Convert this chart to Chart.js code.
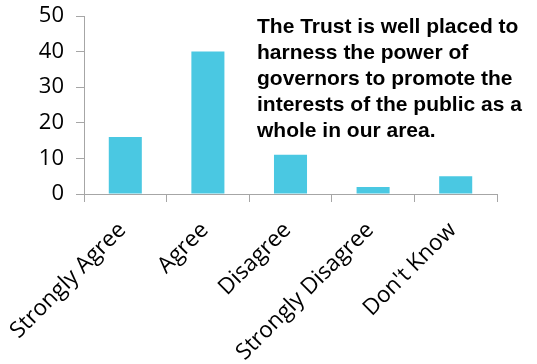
<!DOCTYPE html>
<html>
<head>
<meta charset="utf-8">
<script src="https://cdn.jsdelivr.net/npm/chart.js@4.4.1/dist/chart.umd.min.js"></script>
<style>
  html, body { margin: 0; padding: 0; background: #fff; }
  #wrap { position: relative; width: 537px; height: 364px; }
  #note {
    position: absolute; left: 257px; top: 13px; width: 280px;
    font: bold 21px "Liberation Sans", Arial, sans-serif;
    line-height: 26px; color: #000; white-space: nowrap;
  }
</style>
</head>
<body>
<div id="wrap">
  <canvas id="surveyChart" width="537" height="364"></canvas>
  <div id="note">The Trust is well placed to<br>harness the power of<br>governors to promote the<br>interests of the public as a<br>whole in our area.</div>
</div>
<script>
const answers = ['Strongly Agree', 'Agree', 'Disagree', 'Strongly Disagree', "Don't Know"]
const responses = [16, 40, 11, 2, 5]
const yTicks = [0, 10, 20, 30, 40, 50]

const axisGrey = '#a6a6a6'
const tickFont = { family: '"Open Sans", sans-serif', size: 22 }
const catFont = { family: '"Open Sans", sans-serif', size: 22.5 }

// keep the plot box fixed: the scales shouldn't grow extra margins for their labels
function fixedBox(size) {
  return (scale) => {
    if (scale.isHorizontal()) scale.height = size
    else scale.width = size
    scale.paddingTop = 0
    scale.paddingBottom = 0
    scale.paddingLeft = 0
    scale.paddingRight = 0
  }
}

const surveyChart = new Chart(document.getElementById('surveyChart'), {
  type: 'bar',
  data: {
    labels: answers,
    datasets: [{
      data: responses,
      backgroundColor: '#4ac8e2',
      borderWidth: 0,
      barPercentage: 0.4,
      categoryPercentage: 1
    }]
  },
  options: {
    responsive: false,
    animation: false,
    layout: { padding: { top: 16, right: 40, left: 0, bottom: 0 } },
    plugins: { legend: { display: false }, tooltip: { enabled: false } },
    scales: {
      x: {
        afterFit: fixedBox(170),
        grid: { offset: true, drawOnChartArea: false, tickLength: 8, color: axisGrey },
        border: { color: axisGrey, width: 1 },
        ticks: { color: '#000', font: catFont, minRotation: 45, maxRotation: 45, padding: 15, labelOffset: -3 }
      },
      y: {
        min: yTicks[0],
        max: yTicks[yTicks.length - 1],
        afterFit: fixedBox(84),
        afterBuildTicks: (scale) => { scale.ticks = yTicks.map(v => ({ value: v })) },
        grid: { drawOnChartArea: false, tickLength: 8, color: axisGrey },
        border: { color: axisGrey, width: 1 },
        ticks: { color: '#000', font: tickFont, padding: 12 }
      }
    }
  }
})
</script>
</body>
</html>
